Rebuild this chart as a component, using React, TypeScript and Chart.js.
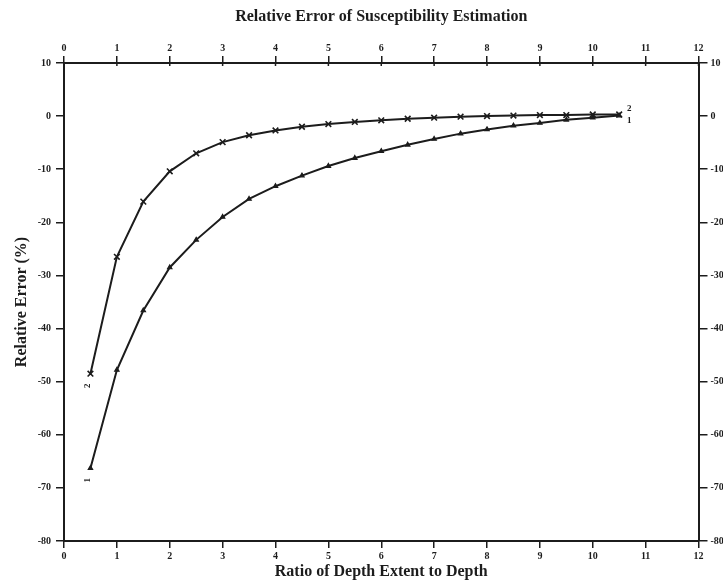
import React, { useEffect, useRef } from "react";
import { Chart, registerables } from "chart.js";

Chart.register(...registerables);

const chartTitle = "Relative Error of Susceptibility Estimation";
const xAxisTitle = "Ratio of Depth Extent to Depth";
const yAxisTitle = "Relative Error (%)";

const ratios = [0.5, 1, 1.5, 2, 2.5, 3, 3.5, 4, 4.5, 5, 5.5, 6, 6.5, 7, 7.5, 8, 8.5, 9, 9.5, 10, 10.5];
const curve2 = [-48.5, -26.5, -16.1, -10.4, -7.0, -4.9, -3.6, -2.7, -2.0, -1.5, -1.1, -0.8, -0.5, -0.3, -0.1, 0.0, 0.1, 0.2, 0.2, 0.3, 0.3];
const curve1 = [-66.3, -47.8, -36.6, -28.5, -23.3, -19.0, -15.6, -13.2, -11.2, -9.4, -7.9, -6.6, -5.4, -4.3, -3.3, -2.5, -1.8, -1.3, -0.7, -0.3, 0.1];
const curveLabels = ["2", "1"];

const xMin = 0, xMax = 12, xStep = 1;
const yMin = -80, yMax = 10, yStep = 10;

const INK = "#1c1c1c";
const SERIF = "'Liberation Serif', 'DejaVu Serif', serif";

export default function App() {
  const ref = useRef<HTMLCanvasElement | null>(null);

  useEffect(() => {
    if (!ref.current) return;
    const tickFont = { family: SERIF, size: 10, weight: "bold" as const };
    const axisTitleFont = { family: SERIF, size: 16, weight: "bold" as const };
    const gridCfg = { drawOnChartArea: false, drawTicks: true, tickLength: 8, color: INK, lineWidth: 1.5 };
    const borderCfg = { display: true, color: INK, width: 2 };

    const labelPlugin = {
      id: "labels",
      afterDatasetsDraw(chart: any) {
        const ctx = chart.ctx;
        const area = chart.chartArea;
        ctx.save();
        ctx.fillStyle = INK;
        ctx.strokeStyle = INK;
        ctx.font = `bold 16px ${SERIF}`;
        ctx.textAlign = "center";
        ctx.textBaseline = "middle";
        ctx.fillText(chartTitle, (area.left + area.right) / 2, 17);
        // short inward ticks on the top axis
        const top = chart.scales.x2;
        ctx.lineWidth = 1.5;
        top.ticks.forEach((t: any) => {
          const px = top.getPixelForValue(t.value);
          ctx.beginPath();
          ctx.moveTo(px, area.top);
          ctx.lineTo(px, area.top + 3);
          ctx.stroke();
        });
        ctx.font = `bold 9px ${SERIF}`;
        chart.data.datasets.forEach((ds: any, i: number) => {
          const meta = chart.getDatasetMeta(i);
          const first = meta.data[0];
          const last = meta.data[meta.data.length - 1];
          const lab = curveLabels[i];
          ctx.save();
          ctx.translate(last.x + 10, last.y + (i === 0 ? -6 : 5));
          ctx.fillText(lab, 0, 0);
          ctx.restore();
          ctx.save();
          ctx.translate(first.x - 3, first.y + 12);
          ctx.rotate(-Math.PI / 2);
          ctx.fillText(lab, 0, 0);
          ctx.restore();
        });
        ctx.restore();
      },
    };

    const chart = new Chart(ref.current, {
      type: "line",
      data: {
        datasets: [
          {
            label: curveLabels[0],
            data: ratios.map((x, i) => ({ x, y: curve2[i] })),
            borderColor: INK,
            backgroundColor: INK,
            borderWidth: 2,
            pointStyle: "crossRot",
            pointRadius: 4,
            pointBorderWidth: 1.6,
            pointBorderColor: INK,
            tension: 0,
          },
          {
            label: curveLabels[1],
            data: ratios.map((x, i) => ({ x, y: curve1[i] })),
            borderColor: INK,
            backgroundColor: INK,
            borderWidth: 2,
            pointStyle: "triangle",
            pointRadius: 2.5,
            pointBorderWidth: 1.2,
            pointBorderColor: INK,
            tension: 0,
          },
        ],
      },
      options: {
        animation: false,
        responsive: false,
        maintainAspectRatio: false,
        layout: { padding: 0 },
        plugins: { legend: { display: false }, title: { display: false }, tooltip: { enabled: false } },
        scales: {
          x: {
            type: "linear",
            position: "bottom",
            min: xMin,
            max: xMax,
            ticks: { stepSize: xStep, font: tickFont, color: INK, padding: 2, maxRotation: 0 },
            grid: { ...gridCfg, tickLength: 7 },
            border: borderCfg,
            title: { display: true, text: xAxisTitle, font: axisTitleFont, color: INK, padding: 2 },
            afterFit: (s: any) => { s.height = 42; },
          },
          x2: {
            type: "linear",
            position: "top",
            min: xMin,
            max: xMax,
            ticks: { stepSize: xStep, font: tickFont, color: INK, padding: 2, maxRotation: 0 },
            grid: { ...gridCfg, tickLength: 7 },
            border: borderCfg,
            afterFit: (s: any) => { s.height = 63; },
          },
          y: {
            type: "linear",
            position: "left",
            min: yMin,
            max: yMax,
            ticks: { stepSize: yStep, font: tickFont, color: INK, padding: 5 },
            grid: gridCfg,
            border: borderCfg,
            title: { display: true, text: yAxisTitle, font: axisTitleFont, color: INK, padding: 12 },
            afterFit: (s: any) => { s.width = 64; },
          },
          y2: {
            type: "linear",
            position: "right",
            min: yMin,
            max: yMax,
            ticks: { stepSize: yStep, font: tickFont, color: INK, padding: 3 },
            grid: { ...gridCfg, tickLength: 9 },
            border: borderCfg,
            afterFit: (s: any) => { s.width = 24.5; },
          },
        },
      },
      plugins: [labelPlugin],
    } as any);
    return () => chart.destroy();
  }, []);

  return (
    <div style={{ position: "absolute", left: 0, top: 0, width: 723, height: 583, background: "#fff" }}>
      <canvas ref={ref} width={723} height={583} style={{ width: 723, height: 583, display: "block" }} />
    </div>
  );
}
